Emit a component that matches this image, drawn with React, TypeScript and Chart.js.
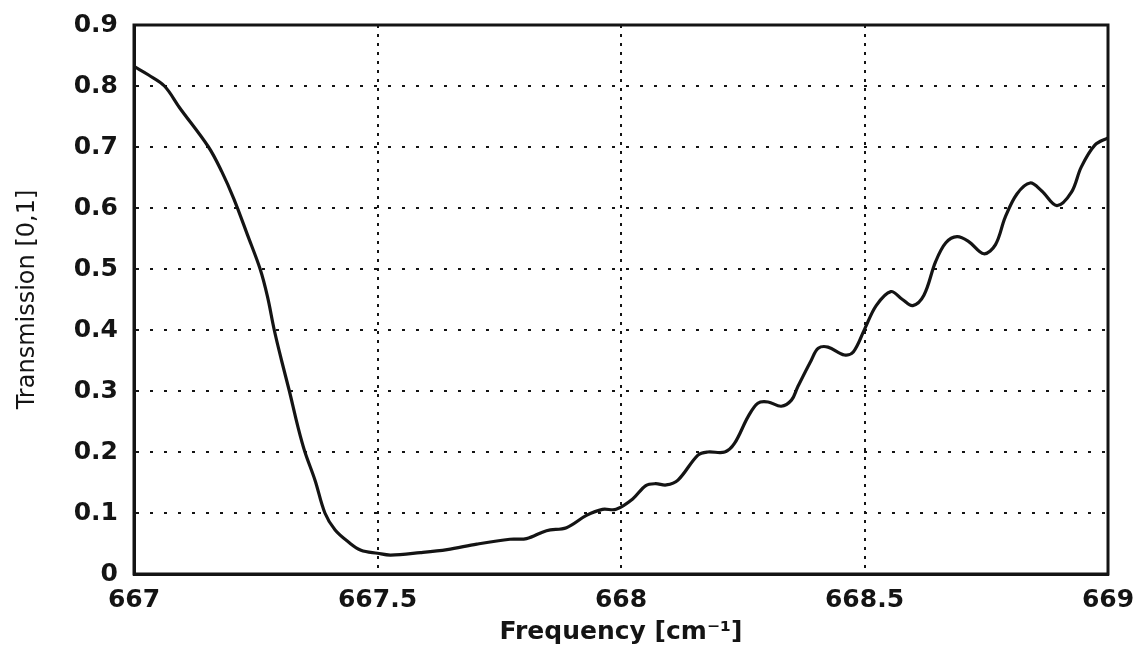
import React, { useEffect, useRef } from "react";
import { Chart, registerables } from "chart.js";

Chart.register(...registerables);

// Frequency in cm^-1
const frequency = [
  667.0, 667.03, 667.0625, 667.094, 667.153, 667.18, 667.205, 667.233, 667.259,
  667.274, 667.288, 667.303, 667.319, 667.337, 667.351, 667.372, 667.392, 667.413,
  667.441, 667.466, 667.5, 667.527, 667.588, 667.643, 667.704, 667.772, 667.806,
  667.847, 667.888, 667.929, 667.962, 667.99, 668.024, 668.051, 668.071, 668.093,
  668.117, 668.158, 668.178, 668.213, 668.233, 668.261, 668.281, 668.302, 668.329,
  668.35, 668.363, 668.391, 668.405, 668.425, 668.459, 668.477, 668.5, 668.524,
  668.554, 668.578, 668.599, 668.622, 668.646, 668.667, 668.69, 668.714, 668.745,
  668.769, 668.789, 668.813, 668.84, 668.864, 668.895, 668.925, 668.945, 668.973,
  669.0,
];

// Transmission [0,1]
const transmission = [
  0.832, 0.818, 0.8, 0.764, 0.7, 0.66, 0.615, 0.556, 0.5,
  0.455, 0.4, 0.35, 0.3, 0.24, 0.2, 0.153, 0.1, 0.072,
  0.052, 0.039, 0.034, 0.031, 0.035, 0.04, 0.049, 0.057, 0.058,
  0.071, 0.076, 0.096, 0.106, 0.106, 0.123, 0.145, 0.148, 0.146,
  0.154, 0.195, 0.2, 0.2, 0.214, 0.258, 0.28, 0.282, 0.275,
  0.285, 0.307, 0.351, 0.37, 0.372, 0.359, 0.364, 0.401, 0.44,
  0.463, 0.45, 0.44, 0.457, 0.512, 0.543, 0.553, 0.545, 0.525,
  0.54, 0.585, 0.623, 0.641, 0.628, 0.604, 0.626, 0.667, 0.703,
  0.715,
];

const xTickValues = [667, 667.5, 668, 668.5, 669];
const yTickValues = [0, 0.1, 0.2, 0.3, 0.4, 0.5, 0.6, 0.7, 0.8, 0.9];

const xTitle = "Frequency [cm\u207B\u00B9]";
const yTitle = "Transmission [0,1]";

const INK = "#141414";

const framePlugin = {
  id: "frameBox",
  afterDraw(chart: any) {
    const { ctx, chartArea } = chart;
    const { left, top, right, bottom } = chartArea;
    ctx.save();
    ctx.strokeStyle = INK;
    ctx.lineWidth = 3;
    ctx.strokeRect(left, top, right - left, bottom - top);
    ctx.restore();
  },
};

export default function App() {
  const canvasRef = useRef<HTMLCanvasElement | null>(null);

  useEffect(() => {
    const canvas = canvasRef.current;
    if (!canvas) return;
    const points = frequency.map((f, i) => ({ x: f, y: transmission[i] }));

    const chart = new Chart(canvas, {
      type: "line",
      data: {
        datasets: [
          {
            data: points,
            borderColor: INK,
            borderWidth: 3.2,
            pointRadius: 0,
            tension: 0.35,
            fill: false,
          },
        ],
      },
      plugins: [framePlugin],
      options: {
        animation: false,
        responsive: false,
        maintainAspectRatio: false,
        layout: { padding: { left: 0, right: 34, top: 25, bottom: 0 } },
        plugins: {
          legend: { display: false },
          tooltip: { enabled: false },
        },
        scales: {
          x: {
            type: "linear",
            min: 667,
            max: 669,
            afterBuildTicks: (scale: any) => {
              scale.ticks = xTickValues.map((v) => ({ value: v }));
            },
            afterFit: (scale: any) => {
              scale.height = 71;
              scale.paddingLeft = 0;
              scale.paddingRight = 0;
            },
            ticks: {
              autoSkip: false,
              maxRotation: 0,
              padding: 11,
              color: INK,
              font: { family: "'DejaVu Sans', sans-serif", weight: "bold", size: 25 },
              callback: (v: any) => String(v),
            },
            grid: { color: INK, lineWidth: 2, drawTicks: false },
            border: { display: true, color: INK, width: 3, dash: [3, 6] },
            title: {
              display: true,
              text: xTitle,
              color: INK,
              font: { family: "'DejaVu Sans', sans-serif", weight: "bold", size: 25, lineHeight: 1 },
              padding: { top: 0, bottom: 0 },
            },
          },
          y: {
            type: "linear",
            min: 0,
            max: 0.9,
            afterBuildTicks: (scale: any) => {
              scale.ticks = yTickValues.map((v) => ({ value: v }));
            },
            afterFit: (scale: any) => {
              scale.width = 134;
              scale.paddingTop = 0;
              scale.paddingBottom = 0;
            },
            ticks: {
              autoSkip: false,
              padding: 16,
              color: INK,
              font: { family: "'DejaVu Sans', sans-serif", weight: "bold", size: 25 },
              callback: (v: any) => String(v),
            },
            grid: { color: INK, lineWidth: 2, drawTicks: false },
            border: { display: true, color: INK, width: 3, dash: [3, 11] },
            title: {
              display: true,
              text: yTitle,
              color: INK,
              font: { family: "'DejaVu Sans', sans-serif", size: 24 },
              padding: { top: 13, bottom: 0 },
            },
          },
        },
      },
    } as any);

    return () => chart.destroy();
  }, []);

  return (
    <div style={{ position: "absolute", left: 0, top: 0, width: 1142, height: 645, background: "#fff" }}>
      <canvas ref={canvasRef} width={1142} height={645} style={{ display: "block" }} />
    </div>
  );
}
